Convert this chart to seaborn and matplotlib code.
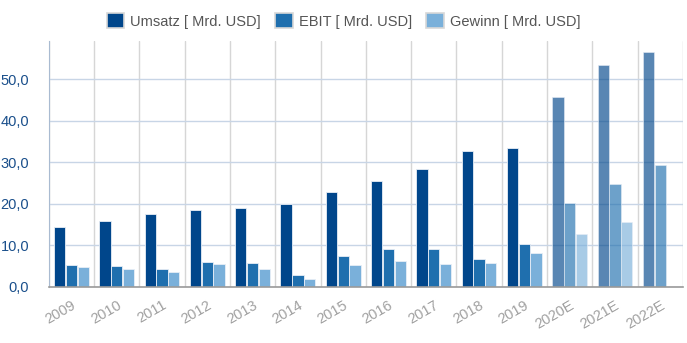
import numpy as np
import pandas as pd
import matplotlib
matplotlib.use("Agg")
import matplotlib.pyplot as plt
from matplotlib.patches import Patch
import seaborn as sns

years = ["2009", "2010", "2011", "2012", "2013", "2014", "2015", "2016",
         "2017", "2018", "2019", "2020E", "2021E", "2022E"]
umsatz = [14.3, 15.8, 17.5, 18.4, 18.9, 20.0, 22.9, 25.6, 28.3, 32.8, 33.4, 45.7, 53.4, 56.5]
ebit = [5.15, 4.9, 4.4, 5.9, 5.7, 2.9, 7.5, 9.0, 9.0, 6.6, 10.3, 20.1, 24.8, 29.3]
gewinn = [4.75, 4.3, 3.5, 5.4, 4.3, 1.85, 5.2, 6.1, 5.4, 5.8, 8.05, 12.7, 15.7, np.nan]

series = ["Umsatz [ Mrd. USD]", "EBIT [ Mrd. USD]", "Gewinn [ Mrd. USD]"]
colors = ["#00468b", "#1f6fae", "#7ab0da"]
n_actual = 11  # years from 2020E on are estimates

rows = []
for name, vals in zip(series, [umsatz, ebit, gewinn]):
    for y, v in zip(years, vals):
        if not np.isnan(v):
            rows.append({"Jahr": y, "Wert": v, "Serie": name})
df = pd.DataFrame(rows)

sns.set_style("white")
plt.rcParams["font.family"] = ["Liberation Sans", "DejaVu Sans"]

fig = plt.figure(figsize=(6.87, 3.43), dpi=100)
ax = fig.add_axes([0.071, 0.164, 0.923, 0.717])

sns.barplot(data=df, x="Jahr", y="Wert", hue="Serie", order=years,
            hue_order=series, palette=colors, width=0.78, gap=0.04,
            saturation=1, edgecolor="#e8eef6", linewidth=0.6,
            legend=False, ax=ax, errorbar=None)

# estimated years are drawn lighter
for p in ax.patches:
    cx = p.get_x() + p.get_width() / 2
    if round(cx) >= n_actual:
        p.set_alpha(0.65)

ax.set_xlim(-0.5, len(years) - 0.5)
ax.set_ylim(0, 59.3)
ax.set_yticks([0, 10, 20, 30, 40, 50])
ax.set_yticklabels([f"{v:.1f}".replace(".", ",") for v in [0, 10, 20, 30, 40, 50]],
                   color="#1a4f8b", fontsize=10.5)
ax.set_xticks(range(len(years)))
ax.set_xticklabels(years, rotation=30, ha="right", rotation_mode="anchor",
                   color="#a0a0a0", fontsize=10.5)
ax.tick_params(axis="x", length=0, pad=8)
ax.tick_params(axis="y", length=0, pad=14)

# grid: horizontal value lines, vertical category separators
ax.set_axisbelow(True)
ax.yaxis.grid(True, color="#c8d5e6", linewidth=1)
ax.set_xticks(np.arange(-0.5, len(years), 1), minor=True)
ax.xaxis.grid(True, which="minor", color="#d6d6d6", linewidth=1)
ax.tick_params(axis="x", which="minor", length=13, color="#d6d6d6", width=1)

ax.set_xlabel("")
ax.set_ylabel("")
for s in ["top", "right"]:
    ax.spines[s].set_visible(False)
ax.spines["left"].set_color("#a9bbd1")
ax.spines["bottom"].set_color("#9a9a9a")
ax.spines["bottom"].set_linewidth(1.2)

handles = [Patch(facecolor=c, edgecolor="#d8d8d8", linewidth=1.2) for c in colors]
fig.legend(handles, series, loc="upper center", bbox_to_anchor=(0.5, 1.0),
           ncol=3, frameon=False, fontsize=10.5, handlelength=1.2,
           handleheight=1.2, handletextpad=0.4, columnspacing=1.0,
           labelcolor="#555555")

fig.savefig("out.png", dpi=100)
